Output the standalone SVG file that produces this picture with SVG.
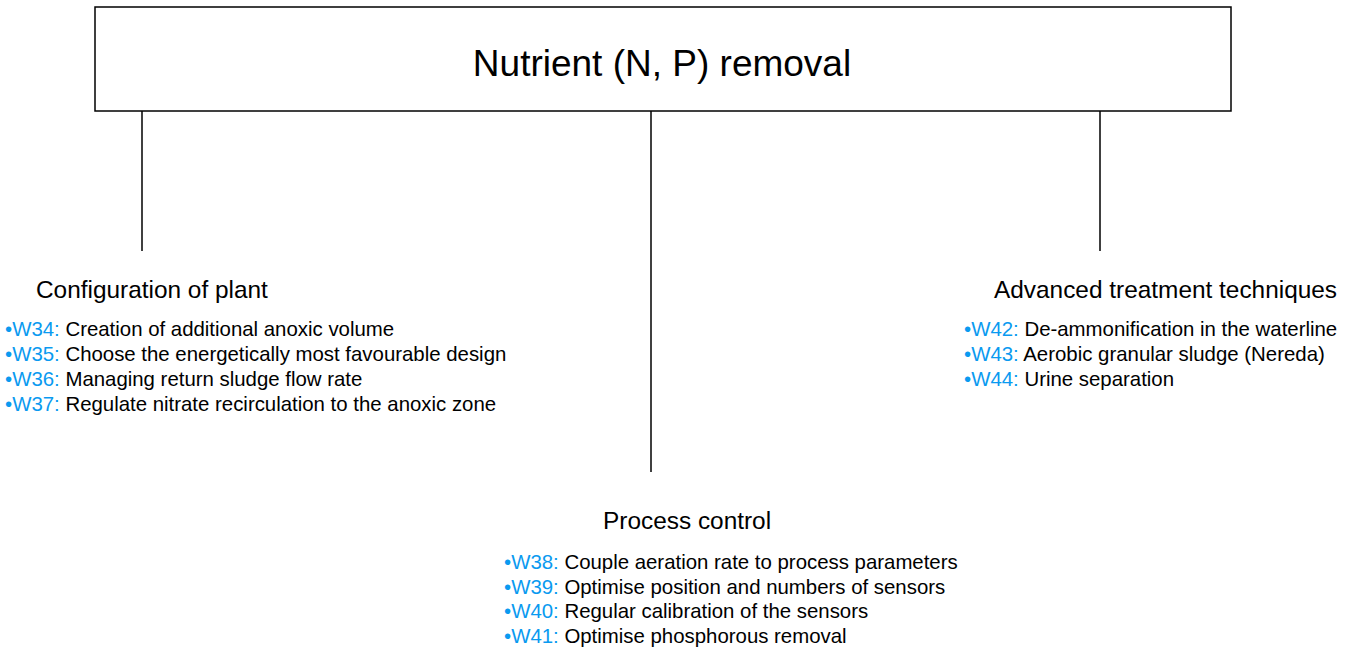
<svg xmlns="http://www.w3.org/2000/svg" width="1349" height="650" viewBox="0 0 1349 650">
<style>
text{font-family:"Liberation Sans",Arial,sans-serif;fill:#000}
.t{font-size:37px}
.h{font-size:24.4px}
.i{font-size:20.4px}
.b{fill:#0a9af0}
.ln{stroke:#000;stroke-width:1.5;fill:none}
</style>
<rect width="1349" height="650" fill="#fff"/>
<g id="connectors">
<line class="ln" x1="142" y1="111" x2="142" y2="251"/>
<line class="ln" x1="651" y1="111" x2="651" y2="472"/>
<line class="ln" x1="1100" y1="111" x2="1100" y2="251"/>
</g>
<g id="root">
<rect x="95" y="7" width="1136" height="104" fill="#fff" stroke="#000" stroke-width="1.5"/>
<text class="t" x="662" y="76" text-anchor="middle">Nutrient (N, P) removal</text>
</g>
<g id="config">
<text class="h" x="36" y="298">Configuration of plant</text>
<text class="i" x="5" y="336"><tspan class="b">•W34:</tspan> Creation of additional anoxic volume</text>
<text class="i" x="5" y="361"><tspan class="b">•W35:</tspan> Choose the energetically most favourable design</text>
<text class="i" x="5" y="386"><tspan class="b">•W36:</tspan> Managing return sludge flow rate</text>
<text class="i" x="5" y="411"><tspan class="b">•W37:</tspan> Regulate nitrate recirculation to the anoxic zone</text>
</g>
<g id="process">
<text class="h" x="603" y="529">Process control</text>
<text class="i" x="504" y="569"><tspan class="b">•W38:</tspan> Couple aeration rate to process parameters</text>
<text class="i" x="504" y="594"><tspan class="b">•W39:</tspan> Optimise position and numbers of sensors</text>
<text class="i" x="504" y="618"><tspan class="b">•W40:</tspan> Regular calibration of the sensors</text>
<text class="i" x="504" y="643"><tspan class="b">•W41:</tspan> Optimise phosphorous removal</text>
</g>
<g id="advanced">
<text class="h" x="994" y="298">Advanced treatment techniques</text>
<text class="i" x="964" y="336"><tspan class="b">•W42:</tspan> De-ammonification in the waterline</text>
<text class="i" x="964" y="361"><tspan class="b">•W43:</tspan> Aerobic granular sludge (Nereda)</text>
<text class="i" x="964" y="386"><tspan class="b">•W44:</tspan> Urine separation</text>
</g>
</svg>
